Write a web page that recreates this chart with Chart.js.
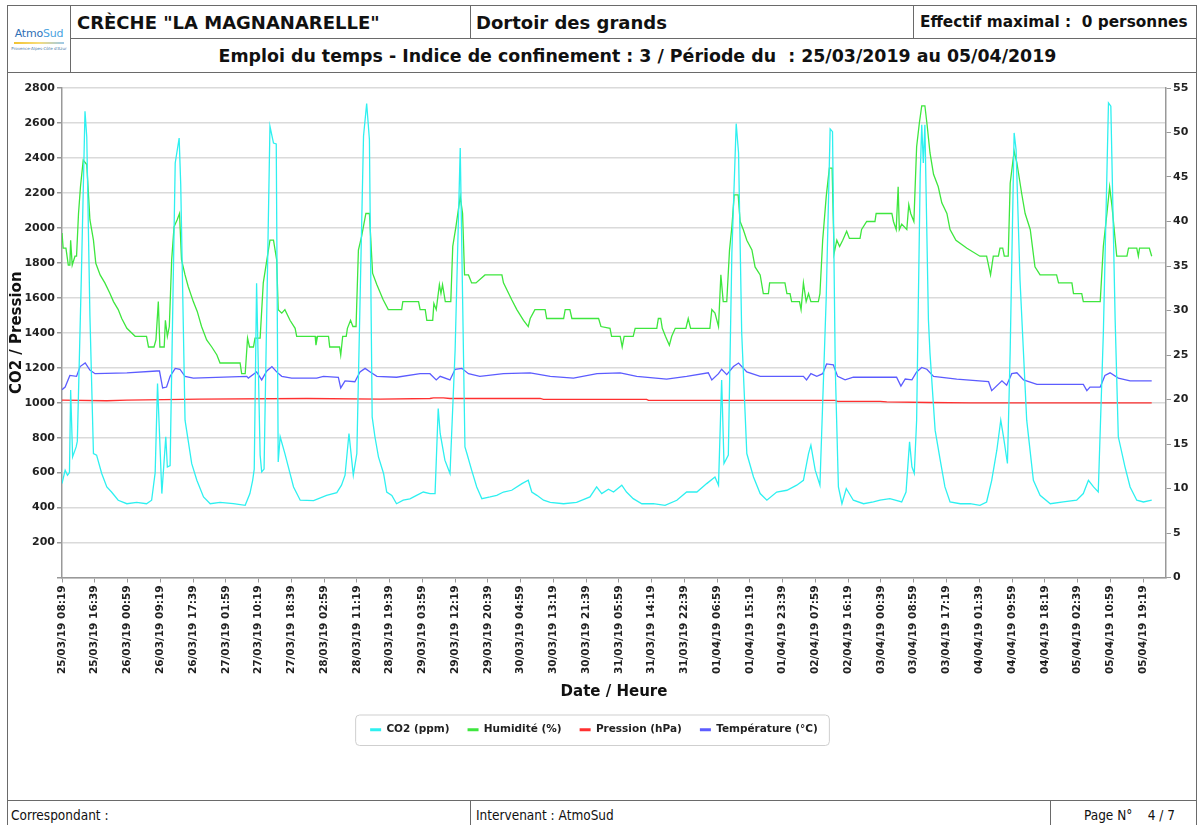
<!DOCTYPE html>
<html lang="fr">
<head>
<meta charset="utf-8">
<title>Crèche La Magnanarelle - Dortoir des grands</title>
<script src="https://cdn.jsdelivr.net/npm/chart.js@4.4.1/dist/chart.umd.min.js"></script>
<style>
  html, body { margin: 0; padding: 0; background: #fff; }
  body { width: 1202px; height: 825px; position: relative; overflow: hidden;
         font-family: "DejaVu Sans", Verdana, sans-serif; color: #111; }
  .cell { position: absolute; box-sizing: border-box; border: 1px solid #6a6a6a;
          display: flex; align-items: center; white-space: nowrap; }
  .big { font-weight: bold; font-size: 18px; }
  #logo { left: 7px; top: 5px; width: 64px; height: 68px; flex-direction: column;
          justify-content: center; align-items: center; }
  #logo .name { font-size: 11px; color: #2f6fb5; letter-spacing: -0.2px; }
  #logo .name span { color: #4aa3df; }
  #logo .swoosh { width: 50px; height: 2px; margin-top: 2px;
                  background: linear-gradient(90deg, #f2c230, #f7dc7a, #9cc9ea); }
  #logo .tiny { font-size: 4px; color: #4a78a8; margin-top: 2px; }
  #site { left: 70px; top: 5px; width: 401px; height: 34px; padding-left: 6px; }
  #room { left: 470px; top: 5px; width: 444px; height: 34px; padding-left: 5px; }
  #max { left: 913px; top: 5px; width: 284px; height: 34px; padding-left: 6px;
         font-weight: bold; font-size: 15.3px; }
  #period { left: 70px; top: 38px; width: 1127px; height: 35px; justify-content: center;
            font-weight: bold; font-size: 17.4px; padding-left: 8px; }
  #frame { position: absolute; left: 7px; top: 72px; width: 1190px; height: 729px;
           box-sizing: border-box; border-left: 1px solid #6a6a6a; border-right: 1px solid #6a6a6a; }
  .foot { top: 800px; height: 30px; font-family: "DejaVu Sans Condensed", "DejaVu Sans", sans-serif;
          font-size: 13.5px; align-items: flex-start; padding-top: 6px; }
  #f1 { left: 7px; width: 464px; padding-left: 3px; }
  #f2 { left: 470px; width: 581px; padding-left: 5px; }
  #f3 { left: 1050px; width: 147px; padding-left: 33px; }
  #chartBox { position: absolute; left: 8px; top: 73px; width: 1188px; height: 726px; }
</style>
</head>
<body>
<div class="cell" id="logo">
  <div class="name">Atmo<span>Sud</span></div>
  <div class="swoosh"></div>
  <div class="tiny">Provence-Alpes-Côte d'Azur</div>
</div>
<div class="cell big" id="site">CRÈCHE "LA MAGNANARELLE"</div>
<div class="cell big" id="room">Dortoir des grands</div>
<div class="cell" id="max">Effectif maximal :&nbsp; 0 personnes</div>
<div class="cell" id="period">Emploi du temps - Indice de confinement : 3 / Période du&nbsp; : 25/03/2019 au 05/04/2019</div>
<div id="frame"></div>
<div id="chartBox"><canvas id="chart" width="1188" height="726"></canvas></div>
<div class="cell foot" id="f1">Correspondant :</div>
<div class="cell foot" id="f2">Intervenant : AtmoSud</div>
<div class="cell foot" id="f3">Page N°&nbsp;&nbsp;&nbsp; 4 / 7</div>

<script>
// Séries : temps en heures depuis le 25/03/19 08:19
const seriesLabels = ["CO2 (ppm)", "Humidité (%)", "Pression (hPa)", "Température (°C)"];
const seriesColors = ["#2ef0f0", "#3ee63e", "#ff3030", "#5c5cff"];

const co2Hours = [0, 0.8, 1.4, 1.9, 2.2, 2.7, 3.6, 3.9, 4.9, 5.85, 6.3, 7.1, 8.0, 8.8, 10.1, 11.4, 12.6, 14.3, 16.5, 19.0,
  21.5, 22.8, 23.7, 24.3, 25.4, 26.4, 26.8, 27.5, 28.8, 29.8, 30.2, 31.3, 33.0, 34.3, 36.0, 37.7, 40.2, 43.6, 46.6, 47.8,
  48.5, 48.9, 49.5, 50.4, 50.8, 51.4, 52.9, 53.8, 54.5, 55.0, 55.5, 56.7, 58.9, 60.6, 64.0, 67.3, 69.9, 71.1, 72.0, 73.0,
  74.1, 75.0, 76.7, 77.5, 78.2, 78.9, 79.6, 80.5, 81.8, 82.6, 83.9, 85.1, 86.8, 88.5, 90.2, 91.9, 93.6, 94.9, 95.7, 96.2,
  97.4, 98.7, 100.0, 101.3, 102.5, 103.0, 104.2, 105.5, 106.8, 108.9, 110.6, 112.3, 114.4, 117.0, 118.6, 119.5, 120.8, 122.5, 124.2, 127.6,
  130.9, 134.3, 136.0, 137.3, 139.0, 140.3, 142.4, 143.6, 145.3, 147.5, 150.4, 153.4, 156.4, 158.9, 161.5, 164.0, 166.1, 167.0, 167.8, 168.4,
  169.5, 170.4, 171.5, 172.1, 172.9, 174.2, 175.9, 177.6, 179.3, 181.8, 184.4, 186.9, 188.6, 189.9, 190.5, 191.6, 192.8, 194.4, 195.4, 196.0,
  196.7, 197.5, 198.4, 199.5, 201.3, 203.9, 206.4, 208.1, 210.6, 213.6, 214.7, 215.6, 216.2, 216.8, 217.4, 218.3, 218.7, 219.1, 219.5, 220.4,
  220.8, 222.1, 223.4, 224.6, 225.9, 228.5, 231.0, 233.5, 235.2, 236.5, 237.8, 238.8, 239.5, 240.5, 241.2, 242.2, 242.7, 243.7, 245.4, 247.1,
  248.8, 251.4, 254.7, 258.1, 259.8, 261.1, 262.4, 263.6, 264.9, 266.2, 266.8, 267.9, 268.7, 270.4, 271.7, 273.4, 275.1, 277.2];
const co2Values = [537, 614, 585, 600, 1072, 690, 747, 780, 1700, 2667, 2520, 1500, 709, 700, 595, 518, 489, 442, 422, 430,
  422, 442, 600, 1110, 480, 805, 632, 640, 2371, 2514, 2250, 900, 651, 556, 461, 422, 430, 422, 413, 480,
  556, 620, 1683, 700, 604, 620, 2581, 2485, 2480, 661, 805, 709, 518, 442, 440, 470, 485, 528, 585, 824,
  585, 709, 2524, 2711, 2504, 919, 805, 690, 595, 489, 470, 422, 442, 450, 470, 489, 480, 480, 967, 824,
  671, 595, 1300, 2457, 747, 709, 614, 518, 451, 461, 470, 489, 499, 537, 556, 489, 470, 442, 430, 422,
  430, 461, 518, 480, 505, 489, 528, 489, 451, 422, 422, 413, 442, 489, 489, 537, 575, 528, 1129, 652,
  700, 1855, 2596, 2428, 1400, 709, 575, 480, 442, 489, 499, 528, 556, 709, 757, 614, 528, 1600, 2566, 2550,
  1200, 518, 422, 509, 442, 422, 432, 442, 451, 432, 489, 776, 633, 595, 900, 2300, 2590, 2371, 2590, 1473,
  1282, 843, 671, 518, 432, 422, 422, 413, 432, 556, 728, 900, 805, 652, 1300, 2543, 2447, 1700, 900, 556,
  470, 422, 432, 442, 480, 556, 518, 489, 1400, 2715, 2696, 1473, 805, 633, 518, 442, 432, 442];

const humHours = [0, 0.3, 1.0, 1.6, 2.0, 2.2, 2.6, 3.3, 3.7, 4.2, 4.7, 5.4, 6.3, 7.1, 8.0, 8.6, 9.7, 10.9, 12.2, 13.1,
  14.3, 15.2, 16.5, 18.6, 21.5, 22.0, 23.4, 23.9, 24.5, 24.9, 26.0, 26.3, 26.8, 27.3, 27.9, 28.5, 29.3, 29.9, 30.4, 31.3,
  32.1, 33.4, 34.4, 35.5, 36.8, 38.1, 39.4, 40.2, 45.3, 45.7, 46.6, 47.2, 47.7, 48.7, 49.1, 50.4, 51.2, 52.9, 53.8, 54.6,
  55.0, 55.9, 56.7, 58.0, 59.3, 59.7, 64.4, 64.6, 65.0, 67.8, 68.1, 70.6, 70.9, 71.4, 72.3, 72.6, 73.4, 74.0, 74.8, 75.4,
  76.2, 77.3, 78.2, 79.0, 80.1, 81.7, 83.0, 86.4, 86.7, 90.7, 91.1, 92.4, 92.8, 94.3, 94.6, 95.2, 96.0, 96.4, 96.8, 97.5,
  98.9, 99.4, 100.2, 101.3, 101.9, 102.4, 103.4, 104.2, 105.3, 107.6, 111.9, 112.3, 114.4, 115.7, 117.4, 118.6, 119.1, 120.3, 122.9, 123.3,
  127.6, 128.0, 129.2, 129.7, 136.5, 137.1, 139.4, 139.8, 142.0, 142.5, 143.0, 145.3, 145.8, 151.3, 151.7, 152.3, 152.7, 153.5, 154.5, 155.1,
  156.0, 158.7, 159.3, 159.9, 164.8, 165.3, 166.1, 167.0, 167.6, 168.2, 169.1, 169.8, 170.4, 171.0, 172.0, 172.5, 173.3, 174.2, 175.5, 176.3,
  177.6, 178.4, 179.7, 180.0, 183.9, 184.4, 185.2, 185.6, 187.6, 188.0, 188.6, 189.3, 189.9, 190.5, 192.4, 192.8, 193.5, 194.4, 195.2, 195.9,
  196.4, 197.1, 197.8, 198.6, 199.6, 200.3, 203.0, 203.4, 204.7, 206.8, 207.1, 211.1, 211.5, 212.2, 212.7, 213.0, 213.6, 214.9, 215.4, 215.9,
  216.7, 217.4, 218.1, 218.7, 219.5, 220.1, 220.8, 221.7, 222.9, 223.8, 225.1, 225.9, 227.4, 230.2, 233.5, 235.2, 236.2, 236.9, 238.2, 238.6,
  239.3, 239.7, 240.7, 241.2, 242.2, 242.9, 244.1, 245.0, 246.3, 247.5, 248.8, 253.0, 253.5, 256.9, 257.3, 259.4, 259.8, 264.1, 264.9, 265.8,
  266.5, 267.1, 268.3, 270.9, 271.3, 273.4, 273.8, 274.1, 276.6, 277.2];
const humValues = [38.7, 37.0, 37.0, 35.1, 35.1, 37.9, 35.1, 36.1, 36.1, 40.9, 43.9, 46.9, 46.4, 40.2, 37.9, 35.3, 34.0, 33.1, 31.9, 31.0,
  30.1, 29.1, 28.0, 27.1, 27.1, 25.9, 25.9, 26.7, 31.0, 25.9, 25.9, 28.9, 27.1, 28.2, 35.7, 39.4, 40.2, 40.9, 35.7, 34.0,
  32.7, 31.0, 29.9, 28.2, 26.7, 25.9, 25.0, 24.1, 24.1, 22.9, 22.9, 26.9, 25.9, 25.9, 26.9, 26.9, 33.1, 37.9, 37.9, 35.7,
  30.1, 29.7, 30.1, 28.9, 28.0, 27.1, 27.1, 26.1, 27.1, 27.1, 25.9, 25.9, 25.0, 27.1, 27.1, 28.0, 28.9, 28.2, 28.2, 36.8,
  38.3, 40.9, 40.9, 34.2, 32.9, 31.2, 30.1, 30.1, 31.0, 31.0, 30.1, 30.1, 28.9, 28.9, 30.8, 30.1, 32.9, 31.9, 32.9, 31.0,
  31.0, 37.2, 39.4, 42.8, 40.9, 34.0, 34.0, 33.1, 33.1, 34.0, 34.0, 33.1, 31.2, 30.1, 28.9, 28.2, 29.1, 30.1, 30.1, 29.1,
  29.1, 30.1, 30.1, 29.1, 29.1, 28.2, 28.0, 27.1, 27.1, 25.9, 27.1, 27.1, 28.0, 28.0, 29.1, 29.1, 28.0, 27.1, 26.1, 27.1,
  28.0, 28.0, 29.1, 28.0, 28.0, 30.1, 29.7, 28.2, 34.0, 31.0, 31.0, 36.8, 39.4, 43.0, 43.0, 40.0, 39.1, 37.9, 36.8, 34.9,
  34.0, 31.9, 31.9, 33.1, 33.1, 31.9, 31.9, 31.0, 31.0, 30.1, 33.1, 31.0, 31.9, 31.0, 31.0, 31.9, 37.9, 42.8, 46.0, 46.0,
  36.4, 37.9, 37.2, 37.9, 38.9, 38.1, 38.1, 39.1, 40.0, 40.0, 40.9, 40.9, 40.0, 39.1, 43.9, 39.1, 39.7, 39.1, 41.9, 40.9,
  40.0, 48.4, 51.1, 53.0, 53.0, 50.7, 47.7, 45.3, 43.9, 42.1, 40.9, 39.1, 37.9, 37.0, 36.1, 36.1, 34.0, 36.1, 36.1, 37.0,
  37.0, 36.1, 36.1, 44.3, 47.9, 46.6, 43.2, 40.9, 39.1, 34.9, 34.0, 34.0, 33.1, 33.1, 31.9, 31.9, 31.0, 31.0, 37.2, 40.9,
  43.9, 41.7, 36.1, 36.1, 37.0, 37.0, 36.1, 37.0, 37.0, 36.1];

const presHours = [0, 11.4, 16.5, 35.1, 62.3, 80.9, 93.6, 94.5, 97.0, 98.7, 121.6, 122.5, 148.7, 149.2, 196.7, 197.3, 208.1, 209.8, 220.4, 231.0, 277.2];
const presValues = [1015, 1011, 1015, 1020, 1024, 1020, 1024, 1028, 1028, 1024, 1024, 1019, 1019, 1013, 1013, 1008, 1008, 1005, 1001, 999, 999];

const tempHours = [0, 0.8, 2.0, 3.7, 4.6, 5.9, 7.1, 8.4, 16.5, 24.1, 24.8, 25.6, 26.6, 27.5, 28.8, 30.0, 31.3, 33.4, 47.0, 47.4,
  49.5, 50.8, 52.1, 53.4, 54.6, 55.9, 58.4, 64.8, 66.5, 70.3, 70.9, 72.0, 74.5, 75.8, 77.1, 78.4, 80.1, 85.1, 91.1, 93.6,
  95.2, 96.2, 98.7, 100.0, 101.7, 103.4, 106.3, 112.3, 119.1, 124.2, 130.1, 136.1, 142.0, 146.2, 153.8, 158.9, 164.4, 165.3, 167.0, 167.8,
  169.1, 170.8, 172.1, 174.2, 177.6, 188.6, 189.4, 190.5, 192.0, 193.5, 194.5, 196.2, 197.3, 199.2, 201.3, 212.3, 213.4, 214.5, 216.2, 217.4,
  218.7, 220.0, 221.7, 227.6, 235.7, 236.5, 239.1, 240.3, 241.6, 242.9, 244.6, 248.0, 259.8, 260.7, 261.5, 264.1, 265.3, 266.6, 268.7, 271.7, 277.2];
const tempValues = [21.1, 21.4, 22.7, 22.6, 23.7, 24.1, 23.3, 22.9, 23.0, 23.2, 23.2, 21.3, 21.4, 22.6, 23.5, 23.4, 22.6, 22.4, 22.6, 22.4,
  23.1, 22.2, 23.2, 23.7, 23.1, 22.6, 22.4, 22.4, 22.6, 22.5, 21.3, 22.1, 22.0, 23.1, 23.5, 23.1, 22.6, 22.5, 22.9, 22.9,
  22.2, 22.6, 22.2, 23.4, 23.5, 22.9, 22.6, 22.9, 23.0, 22.6, 22.4, 22.9, 23.0, 22.6, 22.3, 22.6, 23.0, 22.2, 22.9, 23.4,
  22.8, 23.7, 24.1, 23.1, 22.6, 22.6, 22.2, 22.9, 22.6, 22.9, 24.0, 23.9, 22.6, 22.2, 22.5, 22.5, 21.5, 22.3, 22.2, 23.1,
  23.6, 23.4, 22.6, 22.3, 22.0, 21.0, 22.1, 21.6, 22.9, 23.0, 22.2, 21.7, 21.7, 21.0, 21.4, 21.4, 22.7, 23.0, 22.4, 22.1, 22.1];

// axes
const startUtc = Date.UTC(2019, 2, 25, 8, 19);
const xStepMinutes = 500;
const xTickCount = 34;
const xMaxMinutes = 16850;

function toPoints(hours, values) {
  return hours.map((h, i) => ({ x: Math.round(h * 60), y: values[i] }));
}

function formatTick(minutes) {
  const d = new Date(startUtc + minutes * 60000);
  const p = n => String(n).padStart(2, "0");
  return `${p(d.getUTCDate())}/${p(d.getUTCMonth() + 1)}/${String(d.getUTCFullYear()).slice(2)} ${p(d.getUTCHours())}:${p(d.getUTCMinutes())}`;
}

function makeDataset(i, data, axis) {
  return {
    label: seriesLabels[i],
    data: data,
    yAxisID: axis,
    borderColor: seriesColors[i],
    backgroundColor: seriesColors[i],
    borderWidth: 1.3,
    pointRadius: 0,
    tension: 0,
    fill: false
  };
}

// légende un peu à gauche du centre, avec un cadre arrondi
const legendFrame = {
  id: "legendFrame",
  afterLayout(chart) {
    if (!chart.legend) return;
    chart.legend.left -= 8;
    chart.legend.right -= 8;
  },
  afterDraw(chart) {
    const boxes = chart.legend && chart.legend.legendHitBoxes;
    if (!boxes || !boxes.length) return;
    const ctx = chart.ctx;
    const left = Math.min(...boxes.map(b => b.left)) - 15;
    const right = Math.max(...boxes.map(b => b.left + b.width)) + 11;
    const top = boxes[0].top - 10;
    const bottom = boxes[0].top + boxes[0].height + 10;
    ctx.save();
    ctx.strokeStyle = "#cfcfcf";
    ctx.lineWidth = 1;
    ctx.beginPath();
    ctx.roundRect(left + 0.5, top + 0.5, right - left, bottom - top, 4);
    ctx.stroke();
    ctx.restore();
  }
};

const tickFont = { family: "DejaVu Sans", size: 11, weight: "bold" };
const titleFont = { family: "DejaVu Sans", size: 15, weight: "bold" };

new Chart(document.getElementById("chart"), {
  type: "line",
  data: {
    datasets: [
      makeDataset(0, toPoints(co2Hours, co2Values), "y"),
      makeDataset(1, toPoints(humHours, humValues), "y1"),
      makeDataset(2, toPoints(presHours, presValues), "y"),
      makeDataset(3, toPoints(tempHours, tempValues), "y1")
    ]
  },
  options: {
    responsive: false,
    animation: false,
    layout: { padding: { top: 15, left: 0, right: 0, bottom: 54 } },
    plugins: {
      tooltip: { enabled: false },
      legend: {
        position: "bottom",
        labels: {
          usePointStyle: true,
          pointStyleWidth: 11,
          padding: 18,
          color: "#222",
          font: { family: "DejaVu Sans", size: 10.5, weight: "bold" },
          generateLabels(chart) {
            return Chart.defaults.plugins.legend.labels.generateLabels(chart)
              .map(l => ({ ...l, pointStyle: "line", lineWidth: 3 }));
          }
        }
      }
    },
    scales: {
      x: {
        type: "linear",
        min: 0,
        max: xMaxMinutes,
        afterBuildTicks(scale) {
          scale.ticks = Array.from({ length: xTickCount }, (_, k) => ({ value: k * xStepMinutes }));
        },
        afterFit(scale) { scale.height = 129; },
        ticks: {
          stepSize: xStepMinutes,
          autoSkip: false,
          minRotation: 90,
          maxRotation: 90,
          padding: 3,
          color: "#222",
          font: { family: "DejaVu Sans", size: 10.5, weight: "bold" },
          callback: v => formatTick(v)
        },
        grid: { drawOnChartArea: false, tickLength: 5, color: "#999" },
        border: { color: "#999", width: 1.5 },
        title: { display: true, text: "Date / Heure", color: "#111", font: titleFont, padding: { top: 0, bottom: 5 } }
      },
      y: {
        position: "left",
        min: 0,
        max: 2800,
        afterFit(scale) { scale.width = 54; },
        ticks: {
          stepSize: 200,
          padding: 2,
          color: "#222",
          font: tickFont,
          callback: v => (v === 0 ? "" : v)
        },
        grid: { color: "#dadada", lineWidth: 1.5, tickLength: 5, tickColor: "#999" },
        border: { color: "#999", width: 1.5 },
        title: { display: true, text: "CO2 / Pression", color: "#111", font: titleFont, padding: { top: 0, bottom: 0 } }
      },
      y1: {
        position: "right",
        min: 0,
        max: 55,
        afterFit(scale) { scale.width = 30; },
        ticks: { stepSize: 5, padding: 2, color: "#222", font: tickFont },
        grid: { drawOnChartArea: false, tickLength: 5, color: "#999" },
        border: { color: "#999", width: 1.5 }
      }
    }
  },
  plugins: [legendFrame]
});
</script>
</body>
</html>
